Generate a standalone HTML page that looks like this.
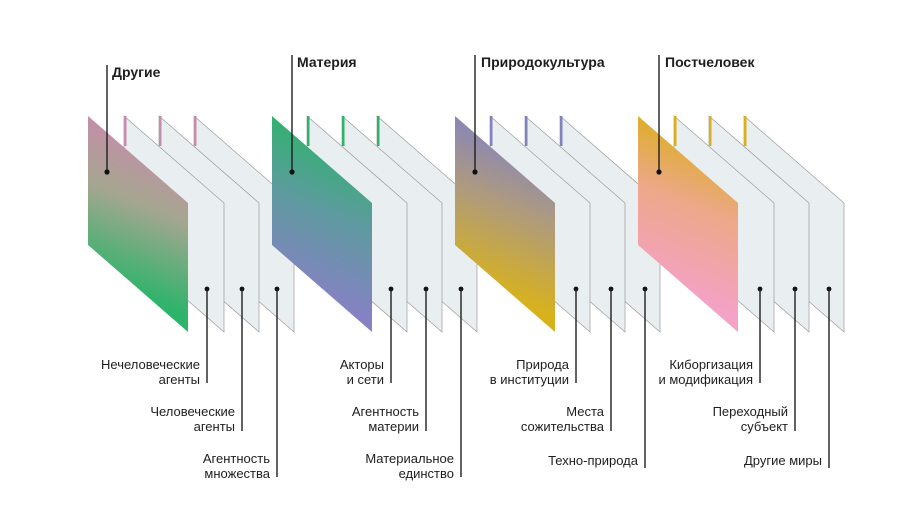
<!DOCTYPE html>
<html><head><meta charset="utf-8"><style>
html,body{margin:0;padding:0;background:#fff;}
svg{display:block;}
text{font-family:"Liberation Sans","DejaVu Sans",sans-serif;fill:#1e1e1e;}
.t{font-size:13px;text-anchor:end;}
.h{font-size:14px;font-weight:bold;}
.w{fill:#e9eef1;stroke:#9c9c9c;stroke-width:0.7;}
.l{stroke:#1e1e1e;stroke-width:1.4;}
</style></head><body>
<svg width="900" height="529" viewBox="0 0 900 529" xmlns="http://www.w3.org/2000/svg">
<defs>
<linearGradient id="g1" gradientUnits="userSpaceOnUse" x1="178" y1="140" x2="118" y2="290"><stop offset="0" stop-color="#c98aae"/><stop offset="0.45" stop-color="#a6a690"/><stop offset="1" stop-color="#2bb46a"/></linearGradient>
<linearGradient id="g2" gradientUnits="userSpaceOnUse" x1="362" y1="140" x2="302" y2="290"><stop offset="0" stop-color="#2bb46a"/><stop offset="0.5" stop-color="#5f9aa0"/><stop offset="1" stop-color="#8482c2"/></linearGradient>
<linearGradient id="g3" gradientUnits="userSpaceOnUse" x1="545" y1="140" x2="485" y2="290"><stop offset="0" stop-color="#8282c2"/><stop offset="0.45" stop-color="#ad9a80"/><stop offset="1" stop-color="#d8b21c"/></linearGradient>
<linearGradient id="g4" gradientUnits="userSpaceOnUse" x1="728" y1="140" x2="668" y2="290"><stop offset="0" stop-color="#dcae1c"/><stop offset="0.45" stop-color="#eca888"/><stop offset="1" stop-color="#f4a2c6"/></linearGradient>
</defs>

<!-- Group 1 L=88 -->
<polygon class="w" points="194,116 294,203 294,332 194,245"/>
<rect x="194" y="116" width="2.5" height="30" fill="#c78cab"/>
<polygon class="w" points="159,116 259,203 259,332 159,245"/>
<rect x="159" y="116" width="2.5" height="30" fill="#c78cab"/>
<polygon class="w" points="124,116 224,203 224,332 124,245"/>
<rect x="124" y="116" width="2.5" height="30" fill="#c78cab"/>
<polygon points="88,116 188,203 188,332 88,245" fill="url(#g1)"/>

<!-- Group 2 L=272 -->
<polygon class="w" points="377,116 477,203 477,332 377,245"/>
<rect x="377" y="116" width="2.5" height="30" fill="#2db46a"/>
<polygon class="w" points="342,116 442,203 442,332 342,245"/>
<rect x="342" y="116" width="2.5" height="30" fill="#2db46a"/>
<polygon class="w" points="307,116 407,203 407,332 307,245"/>
<rect x="307" y="116" width="2.5" height="30" fill="#2db46a"/>
<polygon points="272,116 372,203 372,332 272,245" fill="url(#g2)"/>

<!-- Group 3 L=455 -->
<polygon class="w" points="560,116 660,203 660,332 560,245"/>
<rect x="560" y="116" width="2.5" height="30" fill="#8282c2"/>
<polygon class="w" points="525,116 625,203 625,332 525,245"/>
<rect x="525" y="116" width="2.5" height="30" fill="#8282c2"/>
<polygon class="w" points="490,116 590,203 590,332 490,245"/>
<rect x="490" y="116" width="2.5" height="30" fill="#8282c2"/>
<polygon points="455,116 555,203 555,332 455,245" fill="url(#g3)"/>

<!-- Group 4 L=638 -->
<polygon class="w" points="744,116 844,203 844,332 744,245"/>
<rect x="744" y="116" width="2.5" height="30" fill="#dcae1c"/>
<polygon class="w" points="709,116 809,203 809,332 709,245"/>
<rect x="709" y="116" width="2.5" height="30" fill="#dcae1c"/>
<polygon class="w" points="674,116 774,203 774,332 674,245"/>
<rect x="674" y="116" width="2.5" height="30" fill="#dcae1c"/>
<polygon points="638,116 738,203 738,332 638,245" fill="url(#g4)"/>

<!-- Titles -->
<line class="l" x1="107" y1="65" x2="107" y2="172"/><circle cx="107" cy="172" r="2.6" fill="#111"/>
<text class="h" x="112" y="77">Другие</text>
<line class="l" x1="292" y1="55" x2="292" y2="172"/><circle cx="292" cy="172" r="2.6" fill="#111"/>
<text class="h" x="297" y="67">Материя</text>
<line class="l" x1="475" y1="55" x2="475" y2="172"/><circle cx="475" cy="172" r="2.6" fill="#111"/>
<text class="h" x="481" y="67">Природокультура</text>
<line class="l" x1="659" y1="55" x2="659" y2="172"/><circle cx="659" cy="172" r="2.6" fill="#111"/>
<text class="h" x="665" y="67">Постчеловек</text>

<!-- Dots & leader lines -->
<g fill="#111">
<circle cx="207" cy="289" r="2.4"/><circle cx="242" cy="289" r="2.4"/><circle cx="277" cy="289" r="2.4"/>
<circle cx="391" cy="289" r="2.4"/><circle cx="426" cy="289" r="2.4"/><circle cx="461" cy="289" r="2.4"/>
<circle cx="576" cy="289" r="2.4"/><circle cx="611" cy="289" r="2.4"/><circle cx="645" cy="289" r="2.4"/>
<circle cx="760" cy="289" r="2.4"/><circle cx="795" cy="289" r="2.4"/><circle cx="829" cy="289" r="2.4"/>
</g>
<g class="l">
<line x1="207" y1="289" x2="207" y2="383"/><line x1="242" y1="289" x2="242" y2="431"/><line x1="277" y1="289" x2="277" y2="477"/>
<line x1="391" y1="289" x2="391" y2="383"/><line x1="426" y1="289" x2="426" y2="431"/><line x1="461" y1="289" x2="461" y2="477"/>
<line x1="576" y1="289" x2="576" y2="383"/><line x1="611" y1="289" x2="611" y2="431"/><line x1="645" y1="289" x2="645" y2="468"/>
<line x1="760" y1="289" x2="760" y2="383"/><line x1="795" y1="289" x2="795" y2="431"/><line x1="829" y1="289" x2="829" y2="468"/>
</g>

<!-- Labels -->
<text class="t" x="200" y="369">Нечеловеческие</text><text class="t" x="200" y="384">агенты</text>
<text class="t" x="235" y="416">Человеческие</text><text class="t" x="235" y="431">агенты</text>
<text class="t" x="270" y="463">Агентность</text><text class="t" x="270" y="478">множества</text>

<text class="t" x="384" y="369">Акторы</text><text class="t" x="384" y="384">и сети</text>
<text class="t" x="419" y="416">Агентность</text><text class="t" x="419" y="431">материи</text>
<text class="t" x="454" y="463">Материальное</text><text class="t" x="454" y="478">единство</text>

<text class="t" x="569" y="369">Природа</text><text class="t" x="569" y="384">в институции</text>
<text class="t" x="604" y="416">Места</text><text class="t" x="604" y="431">сожительства</text>
<text class="t" x="638" y="465">Техно-природа</text>

<text class="t" x="753" y="369">Киборгизация</text><text class="t" x="753" y="384">и модификация</text>
<text class="t" x="788" y="416">Переходный</text><text class="t" x="788" y="431">субъект</text>
<text class="t" x="822" y="465">Другие миры</text>
</svg>
</body></html>
